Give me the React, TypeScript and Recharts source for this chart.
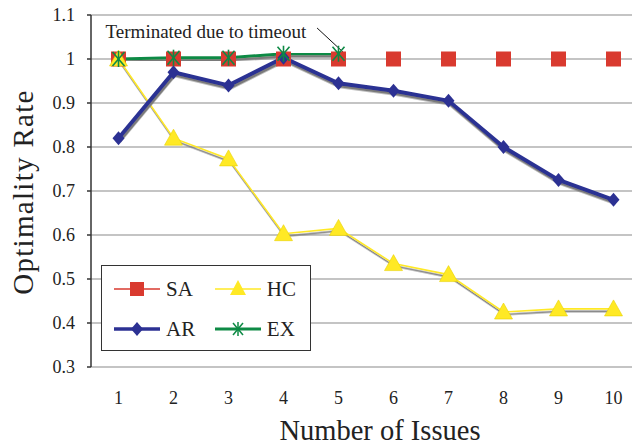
import {
  CartesianGrid,
  Line,
  LineChart,
  ReferenceDot,
  ReferenceLine,
  XAxis,
  YAxis,
} from "recharts";

const issues = [1, 2, 3, 4, 5, 6, 7, 8, 9, 10];
const saRate = [1, 1, 1, 1, 1, 1, 1, 1, 1, 1];
const hcRate = [1, 0.82, 0.773, 0.603, 0.615, 0.535, 0.51, 0.425, 0.432, 0.432];
const arRate = [0.82, 0.97, 0.94, 1.003, 0.945, 0.928, 0.905, 0.8, 0.725, 0.68];
const exRate = [1.0, 1.003, 1.003, 1.012, 1.012];
const yTicks = [0.3, 0.4, 0.5, 0.6, 0.7, 0.8, 0.9, 1.0, 1.1];
const boundaryTicks = [0.5, 1.5, 2.5, 3.5, 4.5, 5.5, 6.5, 7.5, 8.5, 9.5, 10.5];

const data = issues.map((n, i) => ({
  n,
  SA: saRate[i],
  HC: hcRate[i],
  AR: arRate[i],
  EX: i < exRate.length ? exRate[i] : null,
}));

const FONT = '"Liberation Serif", "Times New Roman", serif';
const RED = "#d93a2f";
const YELLOW = "#ffe925";
const BLUE = "#2c3193";
const GREEN = "#0e8a45";
const TEXT = "#222";

const square = (p: any) => (
  <rect key={`sq${p.index}`} x={p.cx - 7.5} y={p.cy - 7.5} width={15} height={15} fill={RED} />
);
const triangle = (p: any) => (
  <path
    key={`tr${p.index}`}
    d={`M${p.cx},${p.cy - 9} L${p.cx + 9},${p.cy + 7} L${p.cx - 9},${p.cy + 7} Z`}
    fill={YELLOW}
    stroke="#e8d100"
    strokeWidth={0.6}
  />
);
const diamond = (p: any) => (
  <path
    key={`di${p.index}`}
    d={`M${p.cx},${p.cy - 7} L${p.cx + 6},${p.cy} L${p.cx},${p.cy + 7} L${p.cx - 6},${p.cy} Z`}
    fill={BLUE}
  />
);
const asterisk = (p: any) =>
  p.value == null ? (
    <g key={`as${p.index}`} />
  ) : (
    <g key={`as${p.index}`} stroke={GREEN} strokeWidth={1.6}>
      <line x1={p.cx - 6} y1={p.cy - 7} x2={p.cx + 6} y2={p.cy + 7} />
      <line x1={p.cx + 6} y1={p.cy - 7} x2={p.cx - 6} y2={p.cy + 7} />
      <line x1={p.cx} y1={p.cy - 8} x2={p.cx} y2={p.cy + 8} />
    </g>
  );

// axis titles sit a little off-centre in the original
const xTitle = ({ viewBox }: any) => (
  <text
    x={viewBox.x + viewBox.width / 2 + 14}
    y={viewBox.y + viewBox.height - 6}
    textAnchor="middle"
    fontSize={28.5}
    fill={TEXT}
    fontFamily={FONT}
  >
    Number of Issues
  </text>
);
const yTitle = ({ viewBox }: any) => {
  const cx = 33;
  const cy = viewBox.y + viewBox.height / 2 + 1;
  return (
    <text
      x={cx}
      y={cy}
      transform={`rotate(-90 ${cx} ${cy})`}
      textAnchor="middle"
      fontSize={29}
      letterSpacing={1.3}
      fill={TEXT}
      fontFamily={FONT}
    >
      Optimality Rate
    </text>
  );
};
const note = ({ viewBox }: any) => {
  const x = viewBox.x + (viewBox.width || 0) / 2;
  const y = viewBox.y + (viewBox.height || 0) / 2;
  return (
    <text x={x} y={y + 6.5} textAnchor="middle" fontSize={19} fill={TEXT} fontFamily={FONT}>
      Terminated due to timeout
    </text>
  );
};

function LegendItem({ color, label, marker, width }: any) {
  return (
    <div style={{ display: "flex", alignItems: "center", width }}>
      <svg width={46} height={20}>
        <line
          x1={0}
          y1={10}
          x2={46}
          y2={10}
          stroke={color}
          strokeWidth={label === "AR" ? 3.5 : label === "EX" ? 3 : 1.5}
        />
        {marker(23, 10)}
      </svg>
      <span style={{ marginLeft: 6, fontSize: 21, color: TEXT, fontFamily: FONT, lineHeight: "20px" }}>
        {label}
      </span>
    </div>
  );
}

export default function App() {
  return (
    <div
      style={{
        position: "absolute",
        left: 0,
        top: 0,
        width: 632,
        height: 446,
        overflow: "hidden",
        background: "#fff",
        fontFamily: FONT,
      }}
    >
      <style>{`.recharts-line { filter: url(#shadow); }`}</style>
      <LineChart
        width={660}
        height={446}
        data={data}
        margin={{ top: 15, right: 19, left: 0, bottom: 0 }}
        style={{ fontFamily: FONT }}
      >
        <defs>
          <filter id="shadow" x="-10%" y="-10%" width="120%" height="130%">
            <feDropShadow dx={1} dy={2.5} stdDeviation={0.4} floodColor="#7a7a7a" floodOpacity={1} />
          </filter>
        </defs>
        <CartesianGrid vertical={false} stroke="#8a8a8a" strokeWidth={1.2} />
        <XAxis
          xAxisId={0}
          dataKey="n"
          type="number"
          domain={[0.5, 10.5]}
          ticks={boundaryTicks}
          tick={false}
          mirror
          tickSize={5}
          height={0}
          stroke="#333"
          strokeWidth={1.5}
        />
        <XAxis
          xAxisId="lbl"
          dataKey="n"
          type="number"
          domain={[0.5, 10.5]}
          ticks={issues}
          axisLine={false}
          tickLine={false}
          tickMargin={18}
          height={79}
          tick={{ fontSize: 18, fill: TEXT, fontFamily: FONT }}
          label={{ content: xTitle }}
        />
        <YAxis
          domain={[0.3, 1.1]}
          ticks={yTicks}
          width={91}
          tickSize={4}
          tickMargin={12}
          stroke="#333"
          strokeWidth={1.5}
          tick={{ fontSize: 18, fill: TEXT, fontFamily: FONT }}
          tickFormatter={(v: number) => String(+v.toFixed(1))}
          label={{ content: yTitle }}
        />
        <Line dataKey="SA" stroke={RED} strokeWidth={1.6} dot={square} isAnimationActive={false} />
        <Line dataKey="HC" stroke={YELLOW} strokeWidth={1.6} dot={triangle} isAnimationActive={false} />
        <Line dataKey="AR" stroke={BLUE} strokeWidth={4} dot={diamond} isAnimationActive={false} />
        <Line
          dataKey="EX"
          stroke={GREEN}
          strokeWidth={3}
          dot={asterisk}
          connectNulls={false}
          isAnimationActive={false}
        />
        <ReferenceLine
          segment={[
            { x: 4.61, y: 1.0705 },
            { x: 5.08, y: 1.016 },
          ]}
          stroke="#111"
          strokeWidth={1}
        />
        <ReferenceDot x={2.59} y={1.063} r={0} fill="none" stroke="none" label={{ content: note }} />
      </LineChart>
      <div
        style={{
          position: "absolute",
          left: 101,
          top: 265,
          width: 208,
          height: 84,
          border: "1.5px solid #333",
          background: "#fff",
          boxSizing: "content-box",
        }}
      >
        <div style={{ display: "flex", paddingLeft: 12, marginTop: 13 }}>
          <LegendItem
            color={RED}
            label="SA"
            width={106}
            marker={(x: number, y: number) => <rect x={x - 7} y={y - 7} width={14} height={14} fill={RED} />}
          />
          <LegendItem
            color={YELLOW}
            label="HC"
            width={100}
            marker={(x: number, y: number) => (
              <path d={`M${x},${y - 9} L${x + 8},${y + 6} L${x - 8},${y + 6} Z`} fill={YELLOW} />
            )}
          />
        </div>
        <div style={{ display: "flex", paddingLeft: 12, marginTop: 20 }}>
          <LegendItem
            color={BLUE}
            label="AR"
            width={106}
            marker={(x: number, y: number) => (
              <path d={`M${x},${y - 7} L${x + 6},${y} L${x},${y + 7} L${x - 6},${y} Z`} fill={BLUE} />
            )}
          />
          <LegendItem
            color={GREEN}
            label="EX"
            width={100}
            marker={(x: number, y: number) => (
              <g stroke={GREEN} strokeWidth={1.5}>
                <line x1={x - 5} y1={y - 6} x2={x + 5} y2={y + 6} />
                <line x1={x + 5} y1={y - 6} x2={x - 5} y2={y + 6} />
                <line x1={x} y1={y - 7} x2={x} y2={y + 7} />
              </g>
            )}
          />
        </div>
      </div>
    </div>
  );
}
